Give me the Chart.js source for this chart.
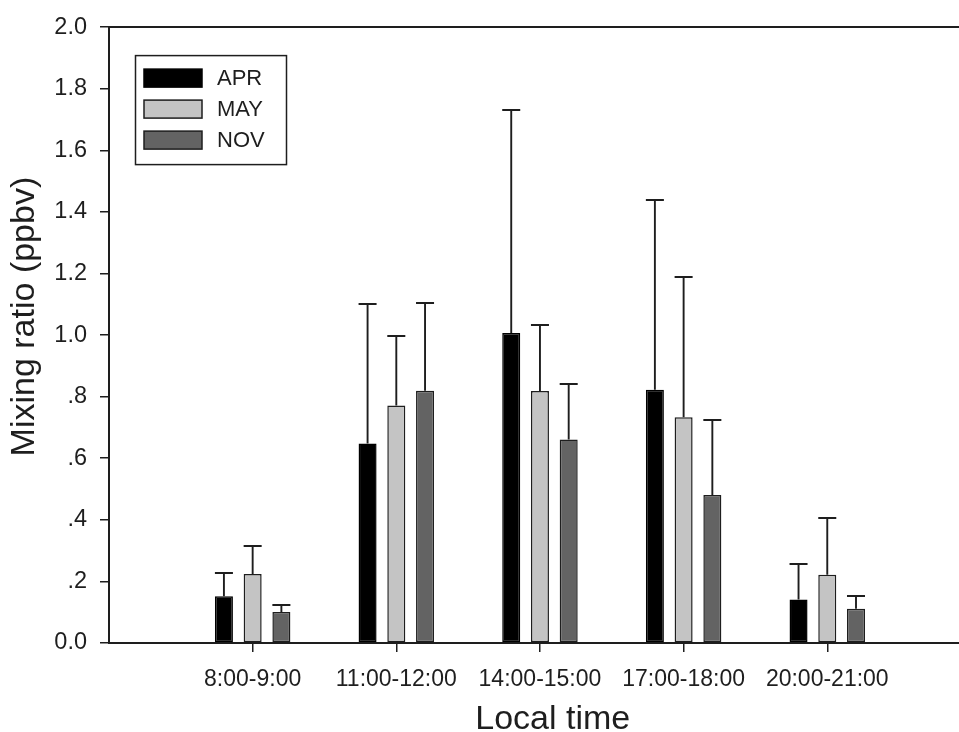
<!DOCTYPE html>
<html lang="en">
<head>
<meta charset="UTF-8">
<title>Mixing ratio by local time</title>
<style>
  html, body { margin: 0; padding: 0; background: #fff; }
  canvas { display: block; }
</style>
</head>
<body>
<canvas id="chart" width="959" height="732"></canvas>
<script src="https://cdn.jsdelivr.net/npm/chart.js"></script>
<script>
// values
const categories = ['8:00-9:00', '11:00-12:00', '14:00-15:00', '17:00-18:00', '20:00-21:00'];
const aprMean = [0.152, 0.648, 1.007, 0.822, 0.141];
const aprSd   = [0.074, 0.453, 0.723, 0.615, 0.117];
const mayMean = [0.224, 0.771, 0.818, 0.733, 0.222];
const maySd   = [0.092, 0.227, 0.214, 0.456, 0.184];
const novMean = [0.101, 0.819, 0.661, 0.481, 0.111];
const novSd   = [0.024, 0.285, 0.179, 0.244, 0.043];
const yTickValues = [0, 0.2, 0.4, 0.6, 0.8, 1.0, 1.2, 1.4, 1.6, 1.8, 2.0];
const yTickLabels = ['0.0', '.2', '.4', '.6', '.8', '1.0', '1.2', '1.4', '1.6', '1.8', '2.0'];

const FONT = "Arial, 'Liberation Sans', Helvetica, sans-serif";
const INK = '#1e1e1e';

function points(values) {
    return values.map((v, i) => ({ x: i + 1, y: v }));
}

// upper error bars with a cap
const errorBars = {
    id: 'errorBars',
    afterDatasetsDraw(chart) {
        const { ctx, scales: { y } } = chart;
        ctx.save();
        ctx.strokeStyle = INK;
        ctx.lineWidth = 1.9;
        chart.data.datasets.forEach((ds, di) => {
            chart.getDatasetMeta(di).data.forEach((bar, i) => {
                const top = Math.round(y.getPixelForValue(ds.data[i].y + ds.sd[i]));
                const half = bar.width / 2;
                ctx.beginPath();
                ctx.moveTo(bar.x, bar.y);
                ctx.lineTo(bar.x, top);
                ctx.moveTo(bar.x - half, top);
                ctx.lineTo(bar.x + half, top);
                ctx.stroke();
            });
        });
        ctx.restore();
    }
};

// top frame line, boxed legend, axis titles
const decorations = {
    id: 'decorations',
    afterDraw(chart) {
        const { ctx, chartArea: a } = chart;
        ctx.save();
        ctx.strokeStyle = INK;
        ctx.lineWidth = 2;
        ctx.beginPath();
        ctx.moveTo(a.left, a.top);
        ctx.lineTo(a.right, a.top);
        ctx.stroke();

        // legend
        const lx = a.left + 26, ly = a.top + 28;
        ctx.lineWidth = 1.5;
        ctx.strokeRect(lx + 0.5, ly + 0.5, 151, 109);
        ctx.font = '22px ' + FONT;
        ctx.textBaseline = 'middle';
        ctx.textAlign = 'left';
        chart.data.datasets.forEach((ds, i) => {
            const sy = ly + 14 + i * 31;
            ctx.fillStyle = ds.backgroundColor;
            ctx.fillRect(lx + 9, sy, 58, 18);
            ctx.strokeStyle = ds.borderColor;
            ctx.strokeRect(lx + 9, sy, 58, 18);
            ctx.fillStyle = INK;
            ctx.fillText(ds.label, lx + 82, sy + 10);
        });

        // axis titles
        ctx.fillStyle = INK;
        ctx.font = '34px ' + FONT;
        ctx.textAlign = 'center';
        ctx.fillText('Local time', a.left + (a.right - a.left) * 0.522, chart.height - 12);
        ctx.translate(25, a.top + (a.bottom - a.top) * 0.47);
        ctx.rotate(-Math.PI / 2);
        ctx.fillText('Mixing ratio (ppbv)', 0, 0);
        ctx.restore();
    }
};

new Chart(document.getElementById('chart'), {
    type: 'bar',
    data: {
        datasets: [
            { label: 'APR', data: points(aprMean), sd: aprSd, backgroundColor: '#000000', borderColor: '#000000' },
            { label: 'MAY', data: points(mayMean), sd: maySd, backgroundColor: '#c4c4c4', borderColor: INK },
            { label: 'NOV', data: points(novMean), sd: novSd, backgroundColor: '#636363', borderColor: INK }
        ]
    },
    options: {
        responsive: false,
        animation: false,
        layout: { padding: { top: 23, right: 0, left: 0, bottom: 0 } },
        datasets: {
            bar: {
                borderWidth: 1.5,
                borderSkipped: false,
                categoryPercentage: 0.6,
                barPercentage: 0.627
            }
        },
        plugins: {
            legend: { display: false },
            tooltip: { enabled: false }
        },
        scales: {
            x: {
                type: 'linear',
                offset: false,
                min: 0,
                max: 5.917,
                afterBuildTicks: s => { s.ticks = categories.map((c, i) => ({ value: i + 1 })); },
                afterFit: s => { s.height = 89; },
                ticks: {
                    autoSkip: false,
                    maxRotation: 0,
                    padding: 14,
                    color: INK,
                    font: { family: FONT, size: 23 },
                    callback: v => categories[v - 1]
                },
                grid: { offset: false, drawOnChartArea: false, drawTicks: true, tickLength: 9, color: INK, lineWidth: 1.5 },
                border: { display: true, color: INK, width: 2 }
            },
            y: {
                min: 0,
                max: 2,
                afterBuildTicks: s => { s.ticks = yTickValues.map(v => ({ value: v })); },
                afterFit: s => { s.width = 109; },
                ticks: {
                    padding: 13,
                    color: INK,
                    font: { family: FONT, size: 23.5 },
                    callback: (v, i) => yTickLabels[i]
                },
                grid: { drawOnChartArea: false, drawTicks: true, tickLength: 9, color: INK, lineWidth: 1.5 },
                border: { display: true, color: INK, width: 2 }
            }
        }
    },
    plugins: [errorBars, decorations]
});
</script>
</body>
</html>
